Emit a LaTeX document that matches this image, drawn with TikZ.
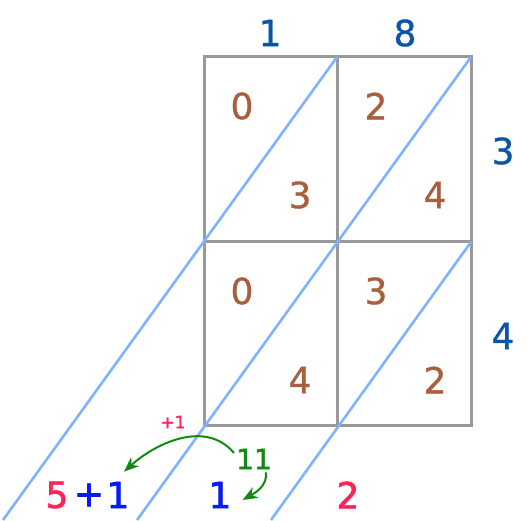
\documentclass[tikz,border=0pt]{standalone}
\usepackage{fontspec}
\setmainfont{DejaVu Sans}
\newfontfamily\digitfont{DejaVu Sans}[FakeBold=0.9]
\newfontfamily\heavyfont{DejaVu Sans}[FakeBold=2]
\usetikzlibrary{arrows.meta}
\definecolor{lattice}{HTML}{999999}
\definecolor{diagblue}{HTML}{80B2FF}
\definecolor{factor}{HTML}{0A55A5}
\definecolor{partial}{HTML}{A8603C}
\definecolor{sumpink}{HTML}{FF2458}
\definecolor{sumblue}{HTML}{0A1AF5}
\definecolor{carrygreen}{HTML}{128A12}

\begin{document}
\begin{tikzpicture}[x=1pt,y=1pt,
    every node/.style={inner sep=2pt,font=\digitfont\fontsize{36}{42}\selectfont},
    factor/.style={text=factor},
    partial/.style={text=partial},
    result/.style={text=sumpink,font=\heavyfont\fontsize{36}{42}\selectfont},
    carried/.style={text=sumblue,font=\heavyfont\fontsize{36}{42}\selectfont},
    carryline/.style={carrygreen,line width=2pt,-{Stealth[length=15pt,width=12pt]}}]
\useasboundingbox (0,0) rectangle (527,520);
% lattice
\draw[lattice,line width=3pt] (204,95) rectangle (471,463);
\draw[lattice,line width=3pt] (337,95) -- (337,463) (204,278) -- (471,278);
% diagonals
\foreach \sx/\sy/\ex in {337/463/3, 471/463/137, 471/278/271}
  \draw[diagblue,line width=2.6pt] (\sx,\sy) -- (\ex,0);
% factors
\node[factor] (top1) at (270,487) {1};
\node[factor] (top8) at (405,487) {8};
\node[factor] (side3) at (503,369) {3};
\node[factor] (side4) at (503,184) {4};
% partial products
\foreach \x/\y/\d [count=\i] in {242/414/0, 300/325/3, 376/414/2, 435/325/4,
                                 242/229/0, 300/140/4, 376/229/3, 435/140/2}
  \node[partial] (p\i) at (\x,\y) {\d};
% sums along the diagonals
\node[result] (five) at (57,25) {5};
\node[carried] (plus) at (89,25) {+};
\node[carried] (carry) at (118,25) {1};
\node[carried] (units) at (220,25) {1};
\node[result] (two) at (348,25) {2};
\node[text=carrygreen,font=\heavyfont\fontsize{28}{32}\selectfont] (eleven) at (254,61) {11};
\node[text=sumpink,font=\heavyfont\fontsize{17}{20}\selectfont] (plusone) at (173,98) {+1};
% carries
\draw[carryline] ([yshift=6pt]eleven.west) to[out=130,in=42] ([xshift=6pt,yshift=8pt]carry.north);
\draw[carryline] ([xshift=-8pt,yshift=-1pt]eleven.south east) to[out=-85,in=30] ([xshift=9pt,yshift=-5pt]units.east);
\end{tikzpicture}
\end{document}
